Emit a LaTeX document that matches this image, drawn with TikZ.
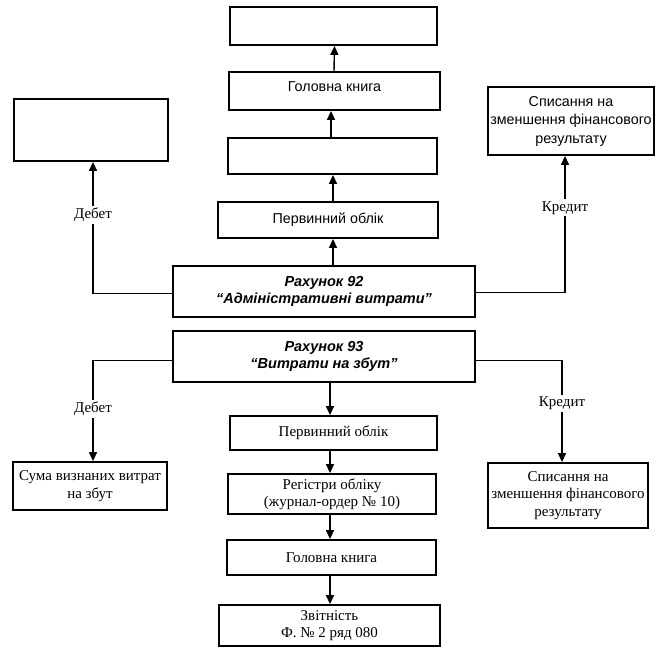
\documentclass[tikz,border=0pt]{standalone}
\usepackage{fontspec}
\setmainfont{Liberation Serif}
\newfontfamily\sansf{Liberation Sans}
\usetikzlibrary{arrows.meta,calc}
\begin{document}
\begin{tikzpicture}[x=1pt,y=-1pt,
  box/.style={draw,line width=1.8pt,inner sep=0pt,align=center},
  serifbox/.style={box,font=\fontsize{15}{17.5}\selectfont},
  sansbox/.style={box,font=\sansf\fontsize{14.3}{18.5}\selectfont},
  accbox/.style={box,font=\sansf\bfseries\itshape\fontsize{14.5}{17}\selectfont},
  arr/.style={line width=1.4pt,-{Triangle[length=9pt,width=8pt]}},
  lbl/.style={fill=white,inner sep=2pt,font=\fontsize{15}{17}\selectfont}]
\useasboundingbox (0,0) rectangle (660,649);
% top part
\node[sansbox,minimum width=207pt,minimum height=38pt] (topb) at (333.5,26) {};
\node[sansbox,minimum width=211pt,minimum height=38pt] (gk1) at (334.5,91) {\raisebox{8pt}{Головна книга}};
\node[sansbox,minimum width=209pt,minimum height=36pt] (box3) at (332.5,156) {};
\node[sansbox,minimum width=154pt,minimum height=62pt] (lt) at (91,130) {};
\node[sansbox,minimum width=166pt,minimum height=68pt] (rt) at (571,121) {Списання на\\зменшення фінансового\\результату};
\node[sansbox,minimum width=220pt,minimum height=36pt] (po1) at (328,220) {Первинний облік};
\node[accbox,minimum width=302pt,minimum height=51pt] (r92) at (324,291.5) {Рахунок 92\\“Адміністративні витрати”};
\node[accbox,minimum width=302pt,minimum height=51pt] (r93) at (324,356.5) {Рахунок 93\\“Витрати на збут”};
% bottom part
\node[serifbox,minimum width=207pt,minimum height=34pt] (po2) at (333.5,433) {Первинний облік};
\node[serifbox,minimum width=208pt,minimum height=40pt] (reg) at (332,494) {Регістри обліку\\(журнал-ордер № 10)};
\node[serifbox,minimum width=209pt,minimum height=35pt] (gk2) at (331.5,557.5) {Головна книга};
\node[serifbox,minimum width=221pt,minimum height=41pt] (zv) at (329.5,625.5) {Звітність\\Ф. № 2 ряд 080};
\node[serifbox,minimum width=154pt,minimum height=48pt] (lb) at (90,486) {Сума визнаних витрат\\на збут};
\node[serifbox,minimum width=160pt,minimum height=65pt] (rb) at (568,495.5) {Списання на\\зменшення фінансового\\результату};
% central arrows, top
\draw[arr] ([xshift=-0.5pt]gk1.north) -- (topb.south -| gk1.north);
\draw[arr] ([xshift=-1.5pt]box3.north) -- ([xshift=-1.5pt]box3.north |- gk1.south);
\draw[arr] ([xshift=5pt]po1.north) -- ([xshift=5pt]po1.north |- box3.south);
\draw[arr] ([xshift=9pt]r92.north) -- ([xshift=9pt]r92.north |- po1.south);
% central arrows, bottom
\draw[arr] ([xshift=6pt]r93.south) -- ([xshift=6pt]r93.south |- po2.north);
\draw[arr] ([xshift=-3.5pt]po2.south) -- ([xshift=-3.5pt]po2.south |- reg.north);
\draw[arr] ([xshift=-2pt]reg.south) -- ([xshift=-2pt]reg.south |- gk2.north);
\draw[arr] ([xshift=-1.5pt]gk2.south) -- ([xshift=-1.5pt]gk2.south |- zv.north);
% side connectors
\draw[arr] ([yshift=-2pt]r92.west) -| node[lbl,pos=0.8] {Дебет} ([xshift=2pt]lt.south);
\draw[arr] ([yshift=-1pt]r92.east) -| node[lbl,pos=0.81] {Кредит} ([xshift=-6pt]rt.south);
\draw[arr] ([yshift=-4pt]r93.west) -| node[lbl,pos=0.74] {Дебет} ([xshift=3pt]lb.north);
\draw[arr] ([yshift=-4pt]r93.east) -| node[lbl,pos=0.71] {Кредит} ([xshift=-6pt]rb.north);
\end{tikzpicture}
\end{document}
